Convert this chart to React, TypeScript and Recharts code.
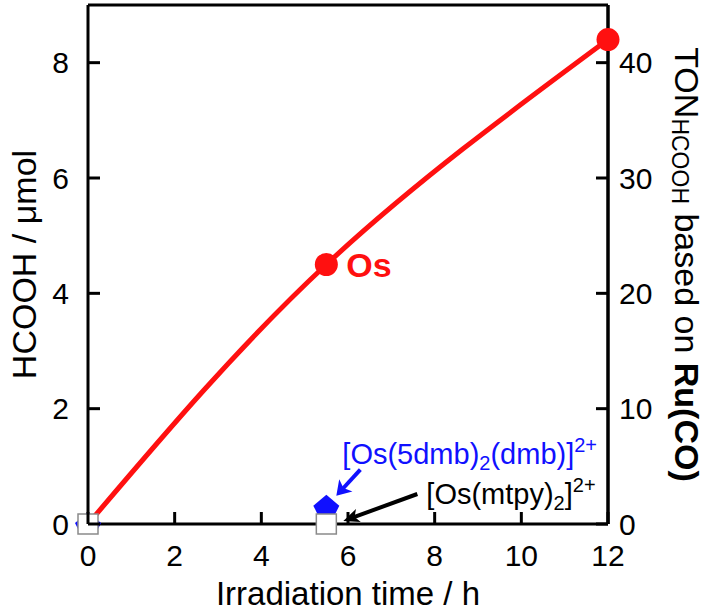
import React from 'react';
import {
  ComposedChart,
  Line,
  Scatter,
  XAxis,
  YAxis,
  ReferenceDot,
  ReferenceLine,
} from 'recharts';

// ---- data ----
const xTicks = [0, 2, 4, 6, 8, 10, 12];
const yLeftTicks = [0, 2, 4, 6, 8];
const yRightTicks = [0, 10, 20, 30, 40];
const yLeftMax = 9;
const yRightMax = 45;
const xMax = 12;

// Os (red) HCOOH formation vs irradiation time
const osTime = [0, 5.5, 12];
const osHcooh = [0, 4.5, 8.4];
// same points as turnover numbers (right axis)
const osTon = [0, 22.5, 42];

// [Os(5dmb)2(dmb)]2+ (blue diamonds)
const dmbTime = [0, 5.5];
const dmbHcooh = [0, 0.3];

// [Os(mtpy)2]2+ (white squares)
const mtpyTime = [0, 5.5];
const mtpyHcooh = [0, 0];

const osData = osTime.map((x, i) => ({ x, y: osHcooh[i], ton: osTon[i] }));
const dmbData = dmbTime.map((x, i) => ({ x, y: dmbHcooh[i] }));
const mtpyData = mtpyTime.map((x, i) => ({ x, y: mtpyHcooh[i] }));

const FONT = '"Liberation Sans", Arial, Helvetica, sans-serif';
const RED = '#ff1010';
const BLUE = '#1010ff';

const W = 708;
const H = 613;

const LeftTick = (props: any) => {
  const { x, y, payload } = props;
  return (
    <g>
      <line x1={x} x2={x + 12} y1={y} y2={y} stroke="#000" strokeWidth={3} />
      <text x={x - 19} y={y} textAnchor="end" dominantBaseline="central" fontSize={30} fontFamily={FONT} fill="#000">
        {payload.value}
      </text>
    </g>
  );
};

const RightTick = (props: any) => {
  const { x, y, payload } = props;
  return (
    <g>
      <line x1={x - 12} x2={x} y1={y} y2={y} stroke="#000" strokeWidth={3} />
      <text x={x + 11} y={y} textAnchor="start" dominantBaseline="central" fontSize={30} fontFamily={FONT} fill="#000">
        {payload.value}
      </text>
    </g>
  );
};

const BottomTick = (props: any) => {
  const { x, y, payload } = props;
  return (
    <g>
      <line x1={x} x2={x} y1={y - 12} y2={y} stroke="#000" strokeWidth={3} />
      <text x={x} y={y + 31} textAnchor="middle" dominantBaseline="central" fontSize={30} fontFamily={FONT} fill="#000">
        {payload.value}
      </text>
    </g>
  );
};

const RedDot = (props: any) => {
  const { cx, cy, index } = props;
  if (index === 0) return <g key={`d${index}`} />;
  return <circle key={`d${index}`} cx={cx} cy={cy} r={11.5} fill={RED} />;
};

const Diamond = (props: any) => {
  const { cx, cy } = props;
  return (
    <polygon
      points={`${cx - 13},${cy - 1} ${cx},${cy - 12} ${cx + 13},${cy - 1} ${cx + 8},${cy + 9} ${cx - 8},${cy + 9}`}
      fill={BLUE}
    />
  );
};

const Square = (props: any) => {
  const { cx, cy } = props;
  return <rect x={cx - 10} y={cy - 10} width={20} height={20} fill="#fff" stroke="#8a8a8a" strokeWidth={1.5} />;
};

const Arrow = ({ x1, y1, x2, y2, color, head }: any) => {
  const ang = Math.atan2(y2 - y1, x2 - x1);
  const hl = head[0];
  const hw = head[1];
  const bx = x2 - hl * Math.cos(ang);
  const by = y2 - hl * Math.sin(ang);
  const px = -Math.sin(ang) * hw;
  const py = Math.cos(ang) * hw;
  return (
    <g>
      <line x1={x1} y1={y1} x2={bx + (x2 - bx) * 0.3} y2={by + (y2 - by) * 0.3} stroke={color} strokeWidth={4} />
      <polygon points={`${x2},${y2} ${bx + px},${by + py} ${bx + (x2 - bx) * 0.25},${by + (y2 - by) * 0.25} ${bx - px},${by - py}`} fill={color} />
    </g>
  );
};

const OsLabel = (props: any) => {
  const { cx, cy } = props;
  return (
    <text x={cx + 20} y={cy} dominantBaseline="central" fontSize={34} fontWeight="bold" fontFamily={FONT} fill={RED}>
      Os
    </text>
  );
};

const DmbLabel = (props: any) => {
  const { cx, cy } = props;
  return (
    <g>
      <text x={cx + 16} y={cy - 43} fontSize={29} fontFamily={FONT} fill={BLUE}>
        [Os(5dmb)
        <tspan fontSize={20} dy={6}>2</tspan>
        <tspan dy={-6}>(dmb)]</tspan>
        <tspan fontSize={20} dy={-12}>2+</tspan>
      </text>
      <Arrow x1={cx + 34} y1={cy - 37} x2={cx + 10} y2={cy - 11} color={BLUE} head={[14, 9]} />
    </g>
  );
};

const MtpyLabel = (props: any) => {
  const { cx, cy } = props;
  return (
    <g>
      <text x={cx + 100} y={cy - 20} fontSize={29} fontFamily={FONT} fill="#000">
        [Os(mtpy)
        <tspan fontSize={20} dy={6}>2</tspan>
        <tspan dy={-6}>]</tspan>
        <tspan fontSize={20} dy={-12}>2+</tspan>
      </text>
      <Arrow x1={cx + 91} y1={cy - 30} x2={cx + 17} y2={cy - 3} color="#000" head={[16, 7]} />
    </g>
  );
};

export default function App() {
  return (
    <div style={{ position: 'absolute', left: 0, top: 0, width: W, height: H, background: '#fff' }}>
      <ComposedChart width={W} height={H} margin={{ top: 5, right: 0, bottom: 0, left: 0 }}>
        <XAxis
          xAxisId="b"
          dataKey="x"
          type="number"
          domain={[0, xMax]}
          ticks={xTicks}
          interval={0}
          height={89}
          axisLine={{ stroke: '#000', strokeWidth: 3 }}
          tickLine={false}
          tickSize={0}
          tickMargin={0}
          tick={<BottomTick />}
          label={{ value: 'Irradiation time / h', position: 'insideBottom', offset: 8, fontSize: 33, fontFamily: FONT, fill: '#000' }}
        />
        <YAxis
          yAxisId="l"
          type="number"
          domain={[0, yLeftMax]}
          ticks={yLeftTicks}
          interval={0}
          width={88}
          axisLine={{ stroke: '#000', strokeWidth: 3 }}
          tickLine={false}
          tickSize={0}
          tickMargin={0}
          tick={<LeftTick />}
          label={(p: any) => {
            const vb = p.viewBox || {};
            const cx = vb.x + 24;
            const cy = vb.y + vb.height / 2;
            return (
              <text x={cx} y={cy} transform={`rotate(-90 ${cx} ${cy})`} textAnchor="middle" dominantBaseline="central" fontSize={34} fontFamily={FONT} fill="#000">
                HCOOH / μmol
              </text>
            );
          }}
        />
        <YAxis
          yAxisId="r"
          orientation="right"
          type="number"
          domain={[0, yRightMax]}
          ticks={yRightTicks}
          interval={0}
          width={100}
          axisLine={{ stroke: '#000', strokeWidth: 3 }}
          tickLine={false}
          tickSize={0}
          tickMargin={0}
          tick={<RightTick />}
          label={(p: any) => {
            const vb = p.viewBox || {};
            const cx = vb.x + vb.width - 21;
            const cy = vb.y + vb.height / 2;
            return (
              <text x={cx} y={cy} transform={`rotate(90 ${cx} ${cy})`} textAnchor="middle" dominantBaseline="central" fontSize={34} fontFamily={FONT} fill="#000">
                TON
                <tspan fontSize={23} dy={7}>HCOOH</tspan>
                <tspan dy={-7}> based on </tspan>
                <tspan fontWeight="bold">Ru(CO)</tspan>
              </text>
            );
          }}
        />
        <ReferenceLine xAxisId="b" yAxisId="l" y={yLeftMax} stroke="#000" strokeWidth={3} ifOverflow="visible" />
        <ReferenceLine xAxisId="b" yAxisId="l" x={xMax} stroke="#000" strokeWidth={3} ifOverflow="visible" />
        {/* invisible TON series that binds the right axis */}
        <Line
          xAxisId="b"
          yAxisId="r"
          data={osData}
          dataKey="ton"
          type="natural"
          stroke="none"
          dot={false}
          activeDot={false}
          isAnimationActive={false}
        />
        <Line
          xAxisId="b"
          yAxisId="l"
          data={osData}
          dataKey="y"
          type="natural"
          stroke={RED}
          strokeWidth={5}
          dot={<RedDot />}
          activeDot={false}
          isAnimationActive={false}
        />
        <Scatter xAxisId="b" yAxisId="l" data={dmbData} dataKey="y" shape={<Diamond />} isAnimationActive={false} />
        <Scatter xAxisId="b" yAxisId="l" data={mtpyData} dataKey="y" shape={<Square />} isAnimationActive={false} />
        <ReferenceDot xAxisId="b" yAxisId="l" x={osTime[1]} y={osHcooh[1]} r={0} shape={<OsLabel />} />
        <ReferenceDot xAxisId="b" yAxisId="l" x={dmbTime[1]} y={dmbHcooh[1]} r={0} shape={<DmbLabel />} />
        <ReferenceDot xAxisId="b" yAxisId="l" x={mtpyTime[1]} y={mtpyHcooh[1]} r={0} shape={<MtpyLabel />} />
      </ComposedChart>
    </div>
  );
}
